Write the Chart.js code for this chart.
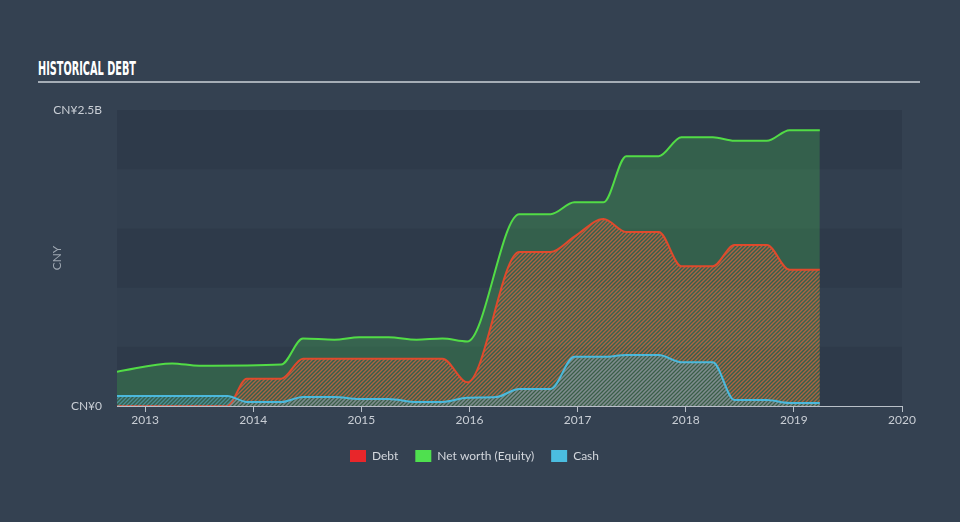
<!DOCTYPE html>
<html>
<head>
<meta charset="utf-8">
<script src="https://cdn.jsdelivr.net/npm/chart.js@4.4.0/dist/chart.umd.min.js"></script>
<style>
  html, body { margin: 0; padding: 0; width: 960px; height: 522px; overflow: hidden; background: #344151; }
  #wrap { position: relative; width: 960px; height: 522px; }
  #title { position: absolute; left: 38px; top: 58px; font-family: "DejaVu Sans Condensed", "Liberation Sans Narrow", sans-serif; font-weight: bold; font-size: 20px; line-height: 20px; color: #ffffff; white-space: nowrap; transform-origin: 0 0; }
  #rule { position: absolute; left: 38px; top: 81px; width: 882px; height: 2px; background: #a5adb6; }
  canvas { position: absolute; left: 0; top: 0; }
</style>
</head>
<body>
<div id="wrap">
  <div id="title">HISTORICAL DEBT</div>
  <div id="rule"></div>
  <canvas id="debtChart" width="960" height="522"></canvas>
</div>
<script>
// values in CN¥ billions, x as decimal year
const debtDates = [2012.74, 2013.76, 2013.94, 2014.26, 2014.46, 2015.75, 2015.98, 2016.46, 2016.75, 2016.97, 2017.24, 2017.45, 2017.75, 2017.96, 2018.25, 2018.45, 2018.75, 2018.96, 2019.24];
const debtValues = [0, 0, 0.23, 0.23, 0.40, 0.40, 0.20, 1.30, 1.30, 1.43, 1.58, 1.47, 1.47, 1.18, 1.18, 1.36, 1.36, 1.15, 1.15];

const equityDates = [2012.74, 2013.25, 2013.5, 2014.26, 2014.46, 2014.75, 2014.98, 2015.25, 2015.51, 2015.75, 2015.98, 2016.46, 2016.75, 2016.97, 2017.24, 2017.45, 2017.75, 2017.96, 2018.25, 2018.45, 2018.75, 2018.96, 2019.24];
const equityValues = [0.29, 0.36, 0.34, 0.35, 0.57, 0.56, 0.58, 0.58, 0.56, 0.57, 0.545, 1.62, 1.62, 1.72, 1.72, 2.11, 2.11, 2.27, 2.27, 2.24, 2.24, 2.33, 2.33];

const cashDates = [2012.74, 2013.76, 2013.94, 2014.26, 2014.46, 2014.75, 2014.98, 2015.25, 2015.51, 2015.75, 2015.98, 2016.25, 2016.46, 2016.75, 2016.97, 2017.24, 2017.45, 2017.75, 2017.96, 2018.25, 2018.45, 2018.75, 2018.96, 2019.24];
const cashValues = [0.085, 0.085, 0.034, 0.034, 0.076, 0.076, 0.06, 0.06, 0.034, 0.034, 0.07, 0.076, 0.144, 0.144, 0.415, 0.415, 0.43, 0.43, 0.37, 0.37, 0.05, 0.05, 0.025, 0.025];

const seriesNames = ["Debt", "Net worth (Equity)", "Cash"];
const legendColors = ["#e8262a", "#4fe04f", "#4bbde0"];
const yearTicks = [2013, 2014, 2015, 2016, 2017, 2018, 2019, 2020];
const yTicks = [0, 2.5];
const yTickLabels = ["CN¥0", "CN¥2.5B"];
const yBands = [0, 0.5, 1, 1.5, 2, 2.5];

const toPoints = (xs, ys) => xs.map((x, i) => ({ x: x, y: ys[i] }));

function hatch(color, size, width) {
    const c = document.createElement("canvas");
    c.width = c.height = size;
    const g = c.getContext("2d");
    g.strokeStyle = color;
    g.lineWidth = width;
    g.beginPath();
    g.moveTo(0, size); g.lineTo(size, 0);
    g.moveTo(-1, 1); g.lineTo(1, -1);
    g.moveTo(size - 1, size + 1); g.lineTo(size + 1, size - 1);
    g.stroke();
    return g.createPattern(c, "repeat");
}

// alternating horizontal bands behind the plot
const bandsPlugin = {
    id: "bands",
    beforeDatasetsDraw(chart) {
        const { ctx, chartArea, scales } = chart;
        ctx.save();
        for (let i = 0; i < yBands.length - 1; i++) {
            const top = scales.y.getPixelForValue(yBands[i + 1]);
            const bottom = scales.y.getPixelForValue(yBands[i]);
            ctx.fillStyle = i % 2 === 0 ? "#2e3a4a" : "#323f4f";
            ctx.fillRect(chartArea.left, top, chartArea.right - chartArea.left, bottom - top);
        }
        ctx.restore();
    }
};

const font = "Lato, 'Open Sans', sans-serif";

// squeeze the condensed title to the reference width
const titleEl = document.getElementById("title");
titleEl.style.transform = "scaleX(" + (98 / titleEl.offsetWidth) + ")";

new Chart(document.getElementById("debtChart"), {
    type: "line",
    data: {
        datasets: [
            {
                label: seriesNames[0],
                data: toPoints(debtDates, debtValues),
                borderColor: "#e04a2c",
                backgroundColor: hatch("rgba(206,100,64,0.78)", 4, 1.4),
                fill: "origin",
                order: 1
            },
            {
                label: seriesNames[1],
                data: toPoints(equityDates, equityValues),
                borderColor: "#52dc46",
                backgroundColor: "rgba(72,200,80,0.27)",
                fill: "origin",
                order: 2
            },
            {
                label: seriesNames[2],
                data: toPoints(cashDates, cashValues),
                borderColor: "#4bb9dc",
                backgroundColor: hatch("rgba(90,170,195,0.62)", 4, 1.4),
                fill: "origin",
                order: 0
            }
        ]
    },
    options: {
        responsive: false,
        animation: false,
        layout: { padding: { top: 110, left: 0, right: 11, bottom: 50 } },
        elements: {
            line: { borderWidth: 2, cubicInterpolationMode: "monotone" },
            point: { radius: 0 }
        },
        scales: {
            x: {
                type: "linear",
                min: 2012.74,
                max: 2020,
                afterBuildTicks: s => { s.ticks = yearTicks.map(v => ({ value: v })); },
                afterFit: s => { s.height = 27; },
                grid: { display: true, drawOnChartArea: false, drawTicks: true, tickLength: 6, color: "#b9c0c8" },
                border: { display: true, color: "#b9c0c8", width: 1 },
                ticks: { color: "#c9ced5", padding: 1, font: { family: font, size: 12 }, callback: v => String(v), maxRotation: 0 }
            },
            y: {
                min: 0,
                max: 2.5,
                afterBuildTicks: s => { s.ticks = yTicks.map(v => ({ value: v })); },
                afterFit: s => { s.width = 117; },
                grid: { display: false, tickLength: 0 },
                border: { display: false },
                ticks: { color: "#c9ced5", padding: 15, font: { family: font, size: 12 }, callback: v => yTickLabels[yTicks.indexOf(v)] },
                title: { display: true, text: "CNY", color: "#9ea7b1", font: { family: font, size: 12 }, padding: { top: 50, bottom: 0 } }
            },
            yRight: {
                position: "right",
                display: true,
                grid: { display: false },
                border: { display: false },
                ticks: { display: false },
                afterFit: s => { s.width = 47; }
            }
        },
        plugins: {
            tooltip: { enabled: false },
            legend: {
                position: "bottom",
                labels: {
                    boxWidth: 16,
                    boxHeight: 12,
                    padding: 17,
                    color: "#d3d7dd",
                    font: { family: font, size: 12 },
                    sort: (a, b) => a.datasetIndex - b.datasetIndex,
                    generateLabels: chart => Chart.defaults.plugins.legend.labels.generateLabels(chart).map(item => {
                        item.fillStyle = legendColors[item.datasetIndex];
                        item.strokeStyle = legendColors[item.datasetIndex];
                        item.lineWidth = 0;
                        return item;
                    })
                }
            }
        }
    },
    plugins: [bandsPlugin]
});
</script>
</body>
</html>
